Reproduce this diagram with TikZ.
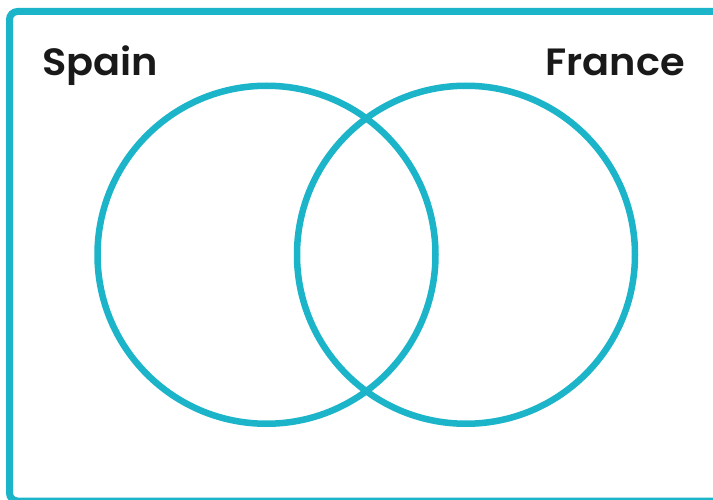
\documentclass[tikz,border=0pt]{standalone}
\usepackage{fontspec}
\usepackage{graphicx}
\setmainfont{Poppins}[BoldFont={Poppins SemiBold}]
\definecolor{teal1}{RGB}{28,180,200}
\newcommand{\widelabel}[1]{\scalebox{1.05}[1]{#1}}
\begin{document}
\begin{tikzpicture}[x=1pt,y=-1pt,
  ring/.style={draw=teal1,line width=6.5pt},
  frame/.style={draw=teal1,line width=7pt,rounded corners=8pt},
  setlabel/.style={inner sep=0pt,font=\fontsize{38}{40}\selectfont\bfseries,text=black!90}]
\useasboundingbox (0,0) rectangle (713,500);
\clip (0,0) rectangle (713,500);
\fill[white] (0,0) rectangle (713,500);
\draw[frame] (9.5,11.5) rectangle (740,501);
\draw[ring] (266.5,254.75) circle[radius=169];
\draw[ring] (466,254.75) circle[radius=169];
\node[setlabel,anchor=base west] (spain) at (42,76) {\widelabel{Spain}};
\node[setlabel,anchor=base east] (france) at (685,76) {\widelabel{France}};
\end{tikzpicture}
\end{document}
